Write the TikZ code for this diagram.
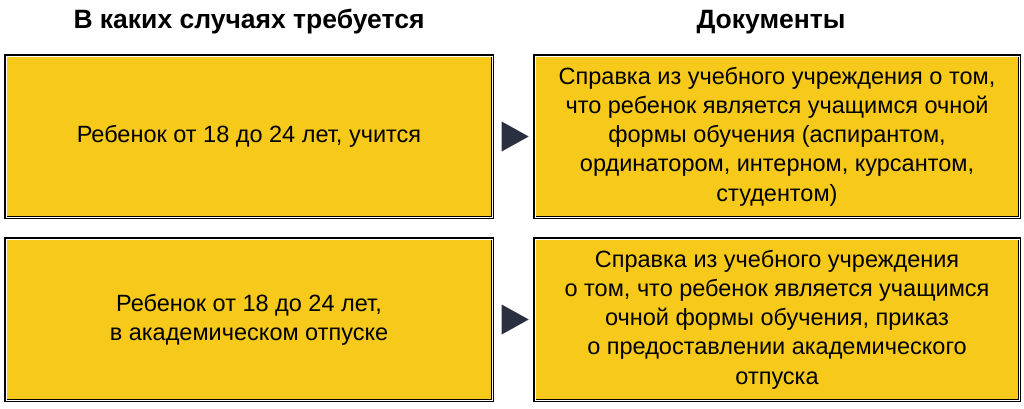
\documentclass[tikz,border=0pt]{standalone}
\usepackage{fontspec}
\setmainfont{Liberation Sans}
\usetikzlibrary{positioning,calc,shapes.geometric}
\definecolor{boxyellow}{HTML}{F6C91A}
\definecolor{arrowgray}{HTML}{2B3040}
\tikzset{
    case box/.style = {
        draw = black,
        line width = 3pt,
        fill = boxyellow,
        minimum height = 162pt,
        align = center,
        font = \fontsize{23.5}{29.3}\selectfont,
        inner sep = 0pt,
        },
    head/.style = {
        font = \fontsize{26.5}{30}\selectfont\bfseries,
        inner sep = 0pt,
        },
    pointer/.style = {
        isosceles triangle,
        isosceles triangle apex angle = 58,
        isosceles triangle stretches,
        fill = arrowgray,
        minimum height = 27pt,
        minimum width = 30pt,
        inner sep = 0pt,
        outer sep = 0pt,
        },
    inner line/.style = {
        draw = white,
        line width = 1pt,
        },
}
\begin{document}
\begin{tikzpicture}[x=1pt, y=-1pt]
    \useasboundingbox (0,0) rectangle (1024,408);

    % left column: cases
    \node [case box, minimum width=487pt] (case1) at (249,136.5) {Ребенок от 18 до 24 лет, учится};
    \node [case box, minimum width=487pt, below=18pt of case1] (case2) {Ребенок от 18 до 24 лет,\\ в академическом отпуске};

    % right column: documents
    \node [case box, minimum width=485pt, right=39pt of case1] (doc1) {Справка из учебного учреждения о том,\\ что ребенок является учащимся очной\\ формы обучения (аспирантом,\\ ординатором, интерном, курсантом,\\ студентом)};
    \node [case box, minimum width=485pt, right=39pt of case2] (doc2) {Справка из учебного учреждения\\ о том, что ребенок является учащимся\\ очной формы обучения, приказ\\ о предоставлении академического\\ отпуска};

    % thin white line inside each box
    \foreach \b in {case1,case2,doc1,doc2}
        \draw [inner line] ([shift={(2,2)}]\b.north west) rectangle ([shift={(-2,-2)}]\b.south east);

    \coordinate (toprow) at (0,22);
    \node [head] (headcase) at (case1.north |- toprow) {В каких случаях требуется};
    \node [head] (headdoc) at ([xshift=-6pt]doc1.north |- toprow) {Документы};

    \node [pointer, xshift=-3pt] (arr1) at ($(case1.east)!0.5!(doc1.west)$) {};
    \node [pointer, xshift=-3pt] (arr2) at ($(case2.east)!0.5!(doc2.west)$) {};
\end{tikzpicture}
\end{document}
